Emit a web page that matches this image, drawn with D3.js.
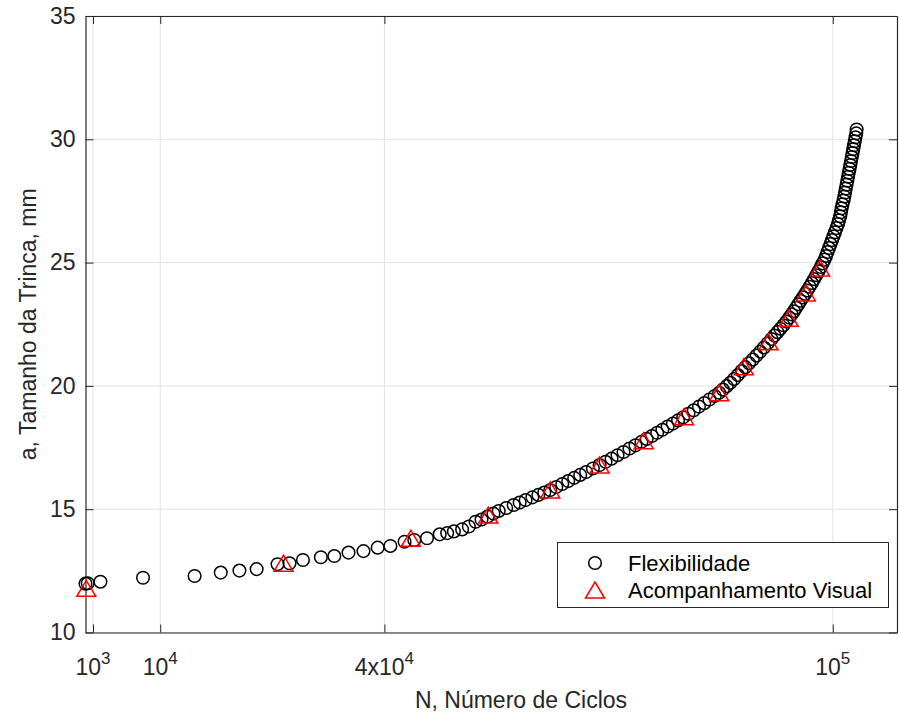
<!DOCTYPE html>
<html>
<head>
<meta charset="utf-8">
<script src="https://cdn.jsdelivr.net/npm/d3@7"></script>
<style>
  body { margin: 0; background: #fff; }
  svg { font-family: Arial, "Liberation Sans", Helvetica, sans-serif; }
  .axis path, .axis line { stroke: #262626; }
  .grid line { stroke: #e3e3e3; }
</style>
</head>
<body>
<script>
// Flexibilidade (compliance) readings: N cycles and crack size a (mm)
var flexN = [0, 300, 2000, 7700, 14600, 18100, 20600, 22900, 25700, 27300, 29100, 31500, 33300, 35200, 37200,
  39100, 40800, 42700, 44000, 45700, 47400, 48400, 49300, 50400, 51300, 52200, 53000, 53800, 54600, 55300,
  56300, 57300, 58100, 58900, 59800, 60600, 61400, 62200, 63000, 63800, 64600, 65400, 66200, 67000, 67900,
  68800, 69600, 70400, 71200, 72000, 72800, 73600, 74400, 75100, 75800, 76500, 77200, 77900, 78600, 79300,
  80000, 80700, 81400, 82100, 82800, 83500, 84200, 84800, 85300, 85800, 86300, 86800, 87300, 87800, 88300,
  88800, 89300, 89800, 90300, 90800, 91300, 91800, 92200, 92600, 93000, 93400, 93800, 94200, 94500, 94800,
  95100, 95400, 95700, 96000, 96300, 96600, 96900, 97200, 97500, 97800, 98100, 98400, 98650, 98900, 99100,
  99300, 99500, 99700, 99900, 100100, 100300, 100500, 100700, 100850, 101000, 101100, 101200, 101300, 101450,
  101550, 101650, 101750, 101850, 101950, 102050, 102150, 102250, 102350, 102450, 102550, 102650, 102750,
  102850, 102950, 103050, 103150, 103200];
var flexA = [11.98, 12.00, 12.06, 12.22, 12.29, 12.43, 12.51, 12.57, 12.77, 12.81, 12.94, 13.05, 13.10, 13.24, 13.30,
  13.44, 13.51, 13.68, 13.75, 13.82, 13.98, 14.03, 14.10, 14.18, 14.30, 14.49, 14.58, 14.70, 14.82, 14.93,
  15.05, 15.17, 15.27, 15.37, 15.48, 15.58, 15.68, 15.78, 15.90, 16.02, 16.14, 16.27, 16.39, 16.51, 16.65,
  16.79, 16.92, 17.05, 17.19, 17.32, 17.46, 17.59, 17.73, 17.85, 17.97, 18.10, 18.22, 18.35, 18.47, 18.60,
  18.73, 18.87, 19.01, 19.16, 19.30, 19.45, 19.59, 19.72, 19.85, 19.99, 20.13, 20.28, 20.44, 20.60, 20.76,
  20.92, 21.07, 21.23, 21.39, 21.56, 21.73, 21.90, 22.04, 22.18, 22.32, 22.46, 22.61, 22.77, 22.90, 23.03,
  23.17, 23.31, 23.45, 23.59, 23.73, 23.87, 24.02, 24.17, 24.33, 24.49, 24.65, 24.82, 24.97, 25.12, 25.27,
  25.43, 25.59, 25.75, 25.91, 26.07, 26.23, 26.40, 26.56, 26.72, 26.88, 27.04, 27.20, 27.36, 27.52,
  27.68, 27.84, 28.00, 28.16, 28.32, 28.48, 28.64, 28.80, 28.96, 29.12, 29.28, 29.44, 29.60,
  29.76, 29.92, 30.08, 30.24, 30.40];

// Acompanhamento Visual (visual tracking) readings
var visN = [100, 26500, 43550, 53900, 62200, 68800, 74700, 80100, 84800, 88100, 91400, 94100, 96400, 98300];
var visA = [11.79, 12.81, 13.82, 14.76, 15.78, 16.79, 17.78, 18.75, 19.72, 20.78, 21.79, 22.74, 23.77, 24.78];

var xTicks = [1000, 10000, 40000, 100000];
var xTickBase = ["10", "10", "4x10", "10"];
var xTickExp = ["3", "4", "4", "5"];
var yTicks = [10, 15, 20, 25, 30, 35];

var seriesNames = ["Flexibilidade", "Acompanhamento Visual"];

var W = 899, H = 720;
var plotL = 85.5, plotR = 897, plotT = 16, plotB = 632.5;

var x = d3.scaleLinear().domain([0, 108600]).range([plotL, plotR]);
var y = d3.scaleLinear().domain([10, 35]).range([plotB, plotT]);

var svg = d3.select("body").append("svg")
    .attr("width", W)
    .attr("height", H);

// grid
var grid = svg.append("g").attr("class", "grid");
grid.selectAll(".gx").data(xTicks).enter().append("line")
    .attr("x1", function(d) { return x(d); }).attr("x2", function(d) { return x(d); })
    .attr("y1", plotT).attr("y2", plotB);
grid.selectAll(".gy").data(yTicks).enter().append("line")
    .attr("y1", function(d) { return y(d); }).attr("y2", function(d) { return y(d); })
    .attr("x1", plotL).attr("x2", plotR);

// axes (box with inward ticks)
svg.append("g").attr("class", "axis")
    .attr("transform", "translate(0," + plotB + ")")
    .call(d3.axisBottom(x).tickValues(xTicks).tickSizeInner(-8).tickSizeOuter(0).tickFormat(""));
svg.append("g").attr("class", "axis")
    .attr("transform", "translate(0," + plotT + ")")
    .call(d3.axisTop(x).tickValues(xTicks).tickSizeInner(-8).tickSizeOuter(0).tickFormat(""));
svg.append("g").attr("class", "axis")
    .attr("transform", "translate(" + plotL + ",0)")
    .call(d3.axisLeft(y).tickValues(yTicks).tickSizeInner(-8).tickSizeOuter(0).tickPadding(10))
    .call(function(g) { g.selectAll("text").attr("font-size", 23).attr("fill", "#262626"); });
svg.append("g").attr("class", "axis")
    .attr("transform", "translate(" + plotR + ",0)")
    .call(d3.axisRight(y).tickValues(yTicks).tickSizeInner(-8).tickSizeOuter(0).tickFormat(""));
svg.selectAll(".axis .domain").attr("stroke-width", 1.2);
svg.selectAll(".axis").attr("font-family", null);

// x tick labels with superscripts
var xl = svg.append("g").attr("fill", "#262626");
xTicks.forEach(function(t, i) {
  var txt = xl.append("text")
      .attr("x", x(t))
      .attr("y", 675)
      .attr("text-anchor", "middle")
      .attr("font-size", 23);
  txt.append("tspan").text(xTickBase[i]);
  txt.append("tspan").attr("dy", -11).attr("font-size", 17).text(xTickExp[i]);
});

// axis labels
svg.append("text")
    .attr("x", 521)
    .attr("y", 708)
    .attr("text-anchor", "middle")
    .attr("font-size", 23)
    .attr("fill", "#262626")
    .text("N, Número de Ciclos");
svg.append("text")
    .attr("transform", "translate(36," + ((plotT + plotB) / 2) + ") rotate(-90)")
    .attr("text-anchor", "middle")
    .attr("font-size", 23)
    .attr("fill", "#262626")
    .text("a, Tamanho da Trinca, mm");

// markers
var tri = "M0,-8L9.5,8L-9.5,8Z";
var flex = d3.zip(flexN, flexA);
var vis = d3.zip(visN, visA);

svg.append("g").selectAll("circle").data(flex).enter().append("circle")
    .attr("cx", function(d) { return x(d[0]); })
    .attr("cy", function(d) { return y(d[1]); })
    .attr("r", 6.3)
    .attr("fill", "none")
    .attr("stroke", "#000")
    .attr("stroke-width", 1.5);

svg.append("g").selectAll("path").data(vis).enter().append("path")
    .attr("transform", function(d) { return "translate(" + x(d[0]) + "," + y(d[1]) + ")"; })
    .attr("d", tri)
    .attr("fill", "none")
    .attr("stroke", "#ff0000")
    .attr("stroke-width", 1.5);

// legend
var lg = svg.append("g");
lg.append("rect")
    .attr("x", 557.5).attr("y", 542.5)
    .attr("width", 331).attr("height", 65)
    .attr("fill", "#fff")
    .attr("stroke", "#262626")
    .attr("stroke-width", 1);
lg.append("circle")
    .attr("cx", 595).attr("cy", 563).attr("r", 6.3)
    .attr("fill", "none").attr("stroke", "#000").attr("stroke-width", 1.5);
lg.append("path")
    .attr("transform", "translate(595,590)")
    .attr("d", tri)
    .attr("fill", "none").attr("stroke", "#ff0000").attr("stroke-width", 1.5);
lg.selectAll("text").data(seriesNames).enter().append("text")
    .attr("x", 628)
    .attr("y", function(d, i) { return 571 + i * 27; })
    .attr("font-size", 22)
    .attr("fill", "#000")
    .text(function(d) { return d; });
</script>
</body>
</html>
